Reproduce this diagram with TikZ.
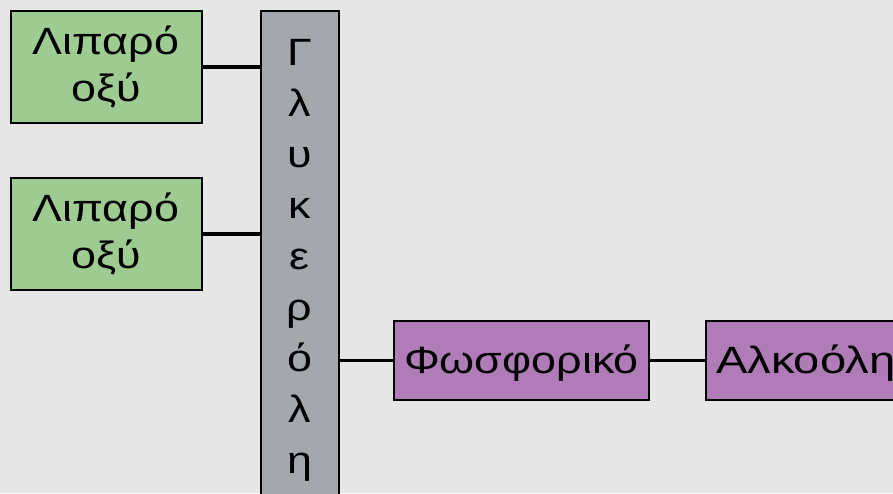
\documentclass[tikz,border=0pt]{standalone}
\usepackage{fontspec}
\setmainfont{Liberation Sans}[FakeStretch=1.18]
\definecolor{bgcol}{RGB}{230,230,230}
\definecolor{acidgreen}{RGB}{158,203,146}
\definecolor{glygray}{RGB}{164,167,172}
\definecolor{phoslilac}{RGB}{176,124,184}
\tikzset{
  box/.style={draw=black, line width=2pt, inner sep=0pt, outer sep=0pt, align=center},
  acid/.style={box, fill=acidgreen, minimum width=191pt, minimum height=112pt,
    font=\fontsize{38}{47}\selectfont},
  glybar/.style={box, fill=glygray, minimum width=78pt, minimum height=500pt},
  lilac/.style={box, fill=phoslilac, minimum height=79pt, text height=30pt, text depth=5pt,
    font=\fontsize{38}{47}\selectfont},
  letter/.style={anchor=base, inner sep=0pt, font=\fontsize{38}{47}\selectfont},
  link/.style={draw=black, line width=3.5pt}
}
\begin{document}
\begin{tikzpicture}[x=1pt, y=-1pt]
\useasboundingbox (0,0) rectangle (893,493);
\clip (0,0) rectangle (893,493);
\fill[bgcol] (0,0) rectangle (893,493);

% fatty acids
\node[acid] (fa1) at (106,67) {Λιπαρό\\οξύ};
\node[acid] (fa2) at (106,234) {Λιπαρό\\οξύ};

% glycerol backbone, written top to bottom
\node[glybar] (gly) at (299.5,261) {};
\foreach \ch [count=\i from 0] in {Γ,λ,υ,κ,ε,ρ,ό,λ,η}
  \node[letter] (gl\i) at (299.5,65+51*\i) {\ch};

% phosphate and alcohol head group
\node[lilac, minimum width=255pt] (phos) at (521.5,360.5) {Φωσφορικό};
\node[lilac, minimum width=230pt, anchor=west, text width=220pt, align=left] (alc) at (706,360.5)
  {\hspace*{5pt}\addfontfeature{FakeStretch=1.24}Αλκοόλη};

% bonds
\draw[link] (fa1.east) -- (fa1.east -| gly.west);
\draw[link] (fa2.east) -- (fa2.east -| gly.west);
\draw[link] (phos.west -| gly.east) -- (phos.west);
\draw[link] (phos.east) -- (alc.west);
\end{tikzpicture}
\end{document}
